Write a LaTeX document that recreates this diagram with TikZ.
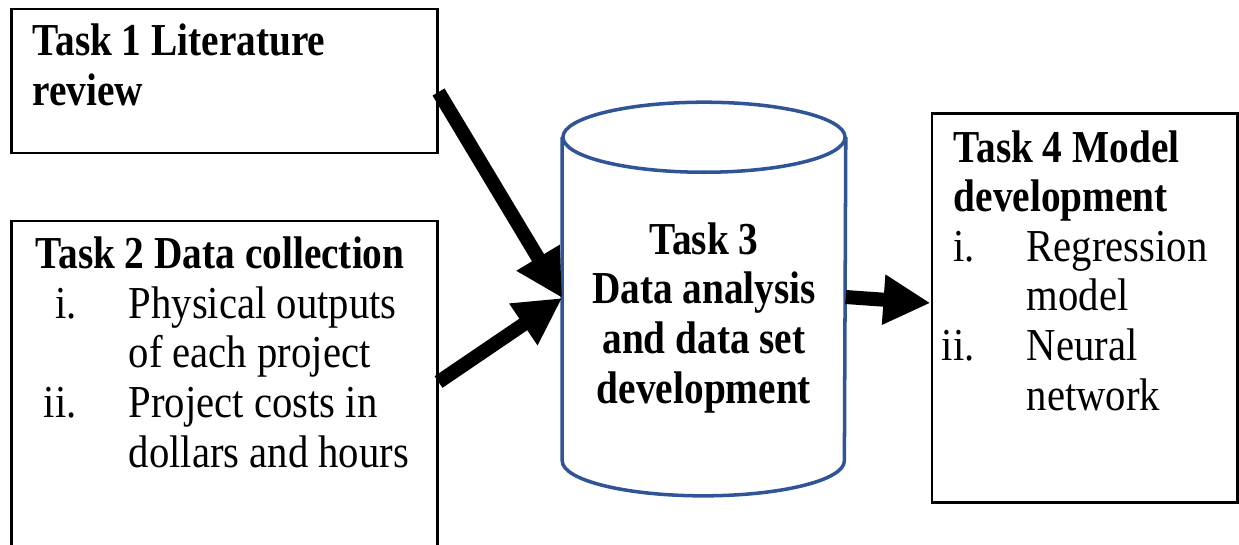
\documentclass[tikz,border=0pt]{standalone}
\usepackage{fontspec}
\setmainfont{Liberation Serif}[FakeStretch=0.89, BoldFeatures={FakeStretch=0.86}]
\usetikzlibrary{arrows.meta, calc}
\definecolor{cylblue}{RGB}{47,85,151}
\newcommand{\itm}[3]{\hspace*{#1}\makebox[0pt][r]{#2}\hspace*{0.52cm}#3}

\begin{document}
\begin{tikzpicture}[
    x=0.01cm, y=-0.01cm,
    font=\fontsize{13}{14.1}\selectfont,
    box/.style={draw=black, line width=0.8pt, inner sep=0pt},
    cyl/.style={draw=cylblue, line width=1pt},
    txt/.style={anchor=base west, align=left, inner sep=0pt},
    ar/.style={-{Triangle[length=0.47cm, width=0.47cm]}, line width=0.14cm}
  ]
    \useasboundingbox (0,0) rectangle (1239,544);

    % boxes
    \node[box, minimum width=4.25cm, minimum height=1.44cm] (t1) at (224.5,81) {};
    \node[box, minimum width=4.25cm, minimum height=3.59cm] (t2) at (224.5,400.5) {};
    \node[minimum width=2.82cm, minimum height=3.92cm, inner sep=0pt] (t3) at (704,299) {};
    \node[box, minimum width=3.05cm, minimum height=3.88cm] (t4) at (1084.5,308) {};

    % cylinder
    \draw[cyl] ([yshift=-0.35cm]t3.north) ellipse[x radius=1.41cm, y radius=0.35cm];
    \draw[cyl] ([yshift=-0.35cm]t3.north west) -- ([yshift=0.35cm]t3.south west)
      arc[start angle=180, end angle=360, x radius=1.41cm, y radius=0.35cm]
      -- ([yshift=-0.35cm]t3.north east);

    % texts (anchored at the baseline of the last line)
    \node[txt] (t1txt) at (32,105) {\textbf{Task 1 Literature}\\\textbf{review}};
    \node[txt] (t2txt) at (35,467) {\textbf{Task 2 Data collection}\\
      \itm{0.41cm}{i.}{Physical outputs}\\
      \hspace*{0.93cm}of each project\\
      \itm{0.41cm}{ii.}{Project costs in}\\
      \hspace*{0.93cm}dollars and hours};
    \node[anchor=base, align=center, inner sep=0pt, font=\fontsize{13}{14.1}\selectfont\bfseries] (t3txt) at (704,403)
      {Task 3\\Data analysis\\and data set\\development};
    \node[txt] (t4txt) at (953,410) {\textbf{Task 4 Model}\\\textbf{development}\\
      \itm{0.21cm}{i.}{Regression}\\
      \hspace*{0.73cm}model\\
      \itm{0.21cm}{ii.}{Neural}\\
      \hspace*{0.73cm}network};

    % arrows
    \draw[ar] ([yshift=-0.11cm]t1.east) -- ([yshift=0.01cm]t3.west);
    \draw[ar] ([yshift=0.185cm]t2.east) -- ([yshift=0.01cm]t3.west);
    \draw[ar] ([yshift=0.02cm]t3.east) -- ([yshift=0.05cm]t4.west);
  \end{tikzpicture}
\end{document}
